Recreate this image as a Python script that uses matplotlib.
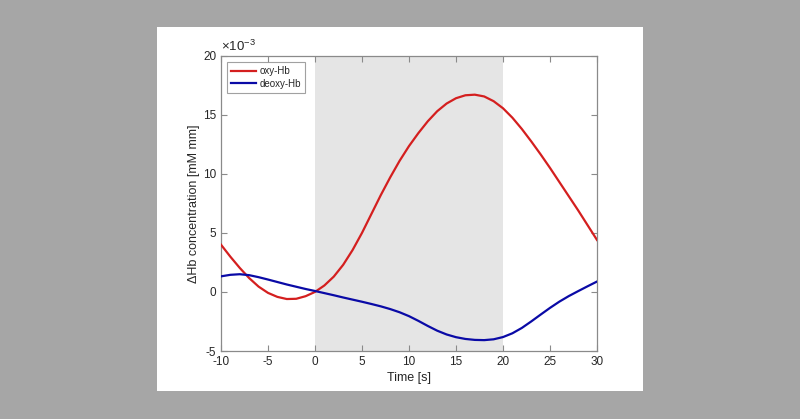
import numpy as np
import matplotlib
matplotlib.use("Agg")
import matplotlib.pyplot as plt
from matplotlib.patches import Rectangle
from matplotlib.ticker import FuncFormatter

plt.rcParams['font.family'] = ['Liberation Sans', 'DejaVu Sans']
plt.rcParams['axes.unicode_minus'] = False
plt.rcParams['mathtext.fontset'] = 'custom'
plt.rcParams['mathtext.rm'] = 'Liberation Sans'
plt.rcParams['mathtext.it'] = 'Liberation Sans'

# Data (concentration values in units of 1e-3 mM mm)
time_s = list(range(-10, 31))
oxy_hb = [4.0, 2.98, 2.03, 1.17, 0.45, -0.08, -0.42, -0.6, -0.58, -0.36,
          0.0, 0.55, 1.3, 2.3, 3.55, 5.0, 6.6, 8.2, 9.7, 11.1,
          12.35, 13.45, 14.45, 15.3, 15.95, 16.4, 16.65, 16.7, 16.55, 16.15,
          15.55, 14.75, 13.8, 12.75, 11.65, 10.5, 9.3, 8.1, 6.9, 5.65, 4.4]
deoxy_hb = [1.32, 1.45, 1.5, 1.42, 1.25, 1.05, 0.84, 0.63, 0.44, 0.25,
            0.08, -0.1, -0.28, -0.47, -0.65, -0.83, -1.02, -1.22, -1.45, -1.72,
            -2.05, -2.45, -2.88, -3.28, -3.6, -3.83, -3.98, -4.06, -4.08, -4.01,
            -3.82, -3.5, -3.05, -2.5, -1.92, -1.35, -0.82, -0.35, 0.07, 0.48, 0.88]
stim_window = (0, 20)
series_labels = ["oxy-Hb", "deoxy-Hb"]
scale = 1e-3

fig = plt.figure(figsize=(8.0, 4.19), dpi=100)
fig.patch.set_facecolor('#a6a6a6')
# white panel
fig.patches.append(Rectangle((157/800, 1-391/419), (643-157)/800, (391-27)/419,
                             transform=fig.transFigure, facecolor='white',
                             edgecolor='none', zorder=-5))

ax = fig.add_axes([221/800, 68/419, 376/800, (351-55.7)/419])
ax.set_zorder(2)
ax.set_facecolor('white')
ax.axvspan(stim_window[0], stim_window[1], color='#e5e5e5', lw=0, zorder=0)

t = np.array(time_s)
ax.plot(t, np.array(oxy_hb) * scale, color='#d41f1f', lw=1.6, label=series_labels[0],
        zorder=3, solid_joinstyle='round')
ax.plot(t, np.array(deoxy_hb) * scale, color='#0a0aa6', lw=1.6, label=series_labels[1],
        zorder=3, solid_joinstyle='round')

ax.set_xlim(-10, 30)
ax.set_ylim(-5e-3, 20e-3)
ax.set_xticks(np.arange(-10, 31, 5))
ax.set_yticks(np.arange(-5, 21, 5) * scale)
ax.yaxis.set_major_formatter(FuncFormatter(lambda v, p: f"{v/scale:.0f}"))
ax.text(0.0, 1.006, r'$\times10^{-3}$', transform=ax.transAxes, ha='left', va='bottom',
        fontsize=9.5, color='#262626')

for s in ax.spines.values():
    s.set_color('#8a8a8a')
    s.set_linewidth(0.9)
ax.tick_params(direction='in', length=4, width=0.8, color='#8a8a8a',
               labelsize=8.5, labelcolor='#262626', top=True, right=True, pad=3.5)

ax.set_xlabel('Time [s]', fontsize=9, color='#262626', labelpad=3)
ax.set_ylabel('ΔHb concentration [mM mm]', fontsize=9, color='#262626', labelpad=2)

leg = ax.legend(loc='upper left', fontsize=7, frameon=True, fancybox=False,
                handlelength=2.5, borderpad=0.45, labelspacing=0.3,
                handletextpad=0.4, borderaxespad=0.6)
leg.get_frame().set_edgecolor('#8a8a8a')
leg.get_frame().set_linewidth(0.8)
for txt in leg.get_texts():
    txt.set_color('#262626')

fig.savefig('out.png', dpi=100, facecolor=fig.get_facecolor())
